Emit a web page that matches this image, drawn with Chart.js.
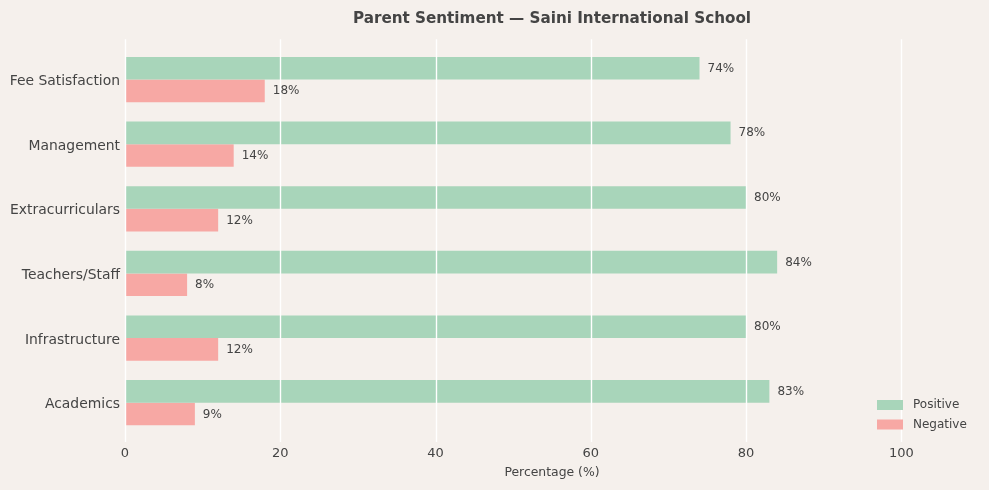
<!DOCTYPE html>
<html lang="en">
<head>
    <meta charset="UTF-8">
    <title>Parent Sentiment</title>
    <script src="https://cdn.jsdelivr.net/npm/chart.js@4.4.0/dist/chart.umd.min.js"></script>
    <style>
        html, body {
            margin: 0;
            padding: 0;
            background: #f5f0ec;
        }
        #wrap {
            width: 989px;
            height: 490px;
        }
    </style>
</head>
<body>
<div id="wrap"><canvas id="myChart"></canvas></div>

<script>
    var categories = ['Fee Satisfaction', 'Management', 'Extracurriculars', 'Teachers/Staff', 'Infrastructure', 'Academics'];
    var positive = [74, 78, 80, 84, 80, 83];
    var negative = [18, 14, 12, 8, 12, 9];
    var xTicks = [0, 20, 40, 60, 80, 100];

    var textColor = '#444444';
    var fontFamily = "'DejaVu Sans', sans-serif";

    // grid lines go on top of the bars, like the original
    var gridOnTop = {
        id: 'gridOnTop',
        afterDatasetsDraw: function(chart) {
            var ctx = chart.ctx;
            var area = chart.chartArea;
            var x = chart.scales.x;
            ctx.save();
            ctx.strokeStyle = '#ffffff';
            ctx.lineWidth = 1.4;
            x.ticks.forEach(function(t, i) {
                var px = Math.round(x.getPixelForTick(i)) + 0.5;
                ctx.beginPath();
                ctx.moveTo(px, area.top - 8);
                ctx.lineTo(px, area.bottom + 7);
                ctx.stroke();
            });
            ctx.restore();
        }
    };

    var valueLabels = {
        id: 'valueLabels',
        afterDatasetsDraw: function(chart) {
            var ctx = chart.ctx;
            ctx.save();
            ctx.font = '12px ' + fontFamily;
            ctx.fillStyle = textColor;
            ctx.textAlign = 'left';
            ctx.textBaseline = 'middle';
            chart.data.datasets.forEach(function(ds, di) {
                chart.getDatasetMeta(di).data.forEach(function(bar, i) {
                    ctx.fillText(ds.data[i] + '%', bar.x + 8, bar.y + 0.5);
                });
            });
            ctx.restore();
        }
    };

    var cornerLegend = {
        id: 'cornerLegend',
        afterDraw: function(chart) {
            var ctx = chart.ctx;
            var area = chart.chartArea;
            var left = area.right - 102;
            var y0 = area.bottom - 30;
            ctx.save();
            ctx.font = '12px ' + fontFamily;
            ctx.textBaseline = 'middle';
            chart.data.datasets.forEach(function(ds, i) {
                var cy = y0 + i * 19.5;
                ctx.fillStyle = ds.backgroundColor;
                ctx.fillRect(left, cy - 5, 26, 10);
                ctx.fillStyle = textColor;
                ctx.fillText(ds.label, left + 36, cy);
            });
            ctx.restore();
        }
    };

    var ctx = document.getElementById('myChart').getContext('2d');
    var chart = new Chart(ctx, {
        type: 'bar',
        data: {
            labels: categories,
            datasets: [
                {
                    label: 'Positive',
                    data: positive,
                    backgroundColor: '#a8d5ba',
                    barPercentage: 1.0,
                    categoryPercentage: 0.7
                },
                {
                    label: 'Negative',
                    data: negative,
                    backgroundColor: '#f7a8a4',
                    barPercentage: 1.0,
                    categoryPercentage: 0.7
                }
            ]
        },
        options: {
            indexAxis: 'y',
            responsive: true,
            maintainAspectRatio: false,
            animation: false,
            layout: {
                padding: { left: 0, right: 10, top: 0, bottom: 0 }
            },
            plugins: {
                legend: { display: false },
                tooltip: { enabled: false },
                title: {
                    display: true,
                    text: 'Parent Sentiment \u2014 Saini International School',
                    color: textColor,
                    fullSize: false,
                    font: { family: fontFamily, size: 15.2, weight: 'bold' },
                    padding: { top: 10, bottom: 19 }
                }
            },
            scales: {
                x: {
                    min: 0,
                    max: 110,
                    border: { display: false },
                    grid: { display: false, drawTicks: false, tickLength: 0 },
                    afterBuildTicks: function(scale) {
                        scale.ticks = xTicks.map(function(v) { return { value: v }; });
                    },
                    afterFit: function(scale) {
                        scale.height = 55;
                    },
                    ticks: {
                        color: textColor,
                        padding: 11,
                        font: { family: fontFamily, size: 13 }
                    },
                    title: {
                        display: true,
                        text: 'Percentage (%)',
                        color: textColor,
                        font: { family: fontFamily, size: 12.4 },
                        padding: { top: 0, bottom: 10 }
                    }
                },
                y: {
                    border: { display: false },
                    grid: { display: false, drawTicks: false, tickLength: 0 },
                    afterFit: function(scale) {
                        scale.width = 125;
                    },
                    ticks: {
                        color: textColor,
                        padding: 5,
                        labelOffset: 2,
                        font: { family: fontFamily, size: 13.9 }
                    }
                }
            }
        },
        plugins: [gridOnTop, valueLabels, cornerLegend]
    });
</script>
</body>
</html>
